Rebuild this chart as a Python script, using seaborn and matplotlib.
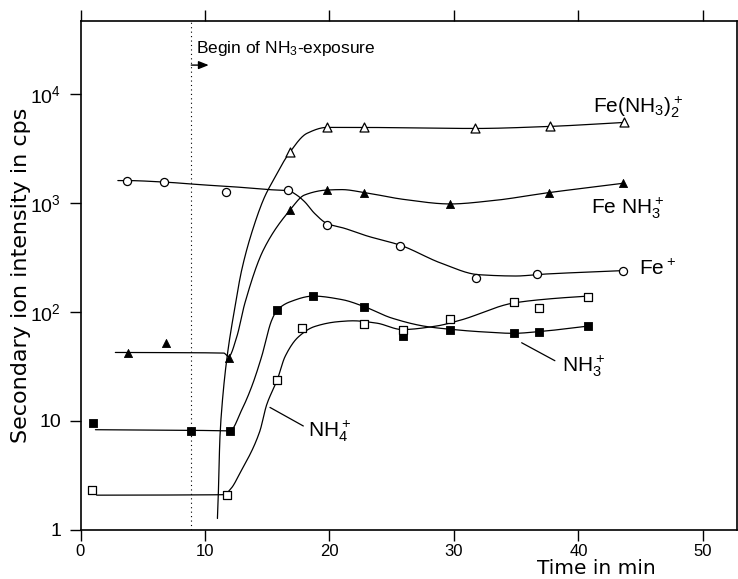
import numpy as np
import matplotlib
matplotlib.use("Agg")
import matplotlib.pyplot as plt
from matplotlib.ticker import NullLocator
import seaborn as sns

# ---- measured points (time in min, intensity in cps) ----
fe_t = [3.7, 6.7, 11.7, 16.7, 19.8, 25.7, 31.8, 36.7, 43.6]
fe_v = [1610, 1550, 1270, 1320, 630, 405, 205, 222, 240]

fenh3_t = [3.8, 6.9, 11.9, 16.8, 19.8, 22.8, 29.7, 37.6, 43.6]
fenh3_v = [42, 52, 38, 870, 1320, 1250, 980, 1250, 1520]

fenh3_2_t = [16.8, 19.8, 22.8, 31.7, 37.7, 43.7]
fenh3_2_v = [2920, 4960, 4950, 4850, 5060, 5500]

nh3_t = [1.0, 8.9, 12.0, 15.8, 18.7, 22.8, 25.9, 29.7, 34.8, 36.8, 40.8]
nh3_v = [9.6, 8.1, 8.0, 104, 140, 111, 60, 69, 64, 66, 74]

nh4_t = [0.9, 11.8, 15.8, 17.8, 22.8, 25.9, 29.7, 34.8, 36.8, 40.8]
nh4_v = [2.3, 2.1, 23.7, 72, 78, 68, 86, 124, 108, 138]

# ---- hand-drawn guide curves (knots) ----
fe_curve_t = [3.0, 3.7, 6.7, 10.0, 12.0, 15.1, 16.7, 17.3, 18.0, 18.8,
              19.8, 21.2, 23.0, 25.7, 29.0, 32.0, 35.0, 37.0, 43.6]
fe_curve_v = [1610, 1610, 1560, 1466, 1420, 1330, 1300, 1200, 1031, 805,
              650, 587, 500, 410, 280, 220, 214, 222, 240]

fenh3_curve_t = [2.8, 11.5, 11.9, 12.55, 13.2, 14.69, 16.83, 18.0,
                 19.8, 21.0, 22.8, 26.0, 29.7, 33.0, 37.6, 43.6]
fenh3_curve_v = [42.5, 42, 39, 59, 120, 371, 864, 1187,
                 1318, 1330, 1250, 1080, 982, 1050, 1247, 1521]

fenh3_2_curve_t = [11.0, 11.07, 11.2, 11.34, 11.74, 12.4, 12.95, 14.0,
                   14.8, 15.5, 16.8, 18.2, 19.8, 22.8, 31.7, 37.7, 43.7]
fenh3_2_curve_v = [1.27, 2.1, 7.0, 12.6, 36, 110, 243, 653,
                   1146, 1630, 2915, 4375, 4955, 4950, 4845, 5060, 5505]

nh3_curve_t = [1.2, 8.9, 12.0, 12.95, 13.75, 14.55, 15.36, 15.8, 16.83,
               18.7, 21.0, 22.8, 25.0, 27.8, 29.7, 32.0, 34.8, 36.8, 40.8]
nh3_curve_v = [8.3, 8.2, 8.1, 12.6, 20.6, 38.9, 84, 104, 124,
               140, 130, 112, 88, 73.5, 69.4, 66, 63.7, 66, 74.3]

nh4_curve_t = [1.3, 11.5, 12.1, 12.8, 14.4, 14.95, 15.8, 16.43, 17.5,
               18.8, 20.7, 21.9, 23.8, 25.85, 28.5, 30.5, 34.8, 38.0, 40.8]
nh4_curve_v = [2.08, 2.1, 2.4, 3.3, 8.0, 14.0, 23.7, 38.9, 59,
               73.5, 81.5, 83, 79, 69, 74, 84, 121, 133, 140]

exposure_start = 8.9
y_ticks = [1, 10, 100, 1000, 10000]
y_ticklabels = ["1", "10", r"$10^2$", r"$10^3$", r"$10^4$"]
x_ticks = [0, 10, 20, 30, 40, 50]


def pchip(x, y, xn):
    """Monotone piecewise cubic Hermite interpolation."""
    x = np.asarray(x, float)
    y = np.asarray(y, float)
    h = np.diff(x)
    d = np.diff(y) / h
    m = np.zeros_like(y)
    for k in range(1, len(x) - 1):
        if d[k - 1] * d[k] > 0:
            w1 = 2 * h[k] + h[k - 1]
            w2 = h[k] + 2 * h[k - 1]
            m[k] = (w1 + w2) / (w1 / d[k - 1] + w2 / d[k])
    m[0] = d[0]
    m[-1] = d[-1]
    idx = np.clip(np.searchsorted(x, xn) - 1, 0, len(h) - 1)
    t = (xn - x[idx]) / h[idx]
    h00 = 2 * t**3 - 3 * t**2 + 1
    h10 = t**3 - 2 * t**2 + t
    h01 = -2 * t**3 + 3 * t**2
    h11 = t**3 - t**2
    return (h00 * y[idx] + h10 * h[idx] * m[idx]
            + h01 * y[idx + 1] + h11 * h[idx] * m[idx + 1])


def smooth(t, v, n=800):
    tt = np.linspace(t[0], t[-1], n)
    vv = 10 ** pchip(t, np.log10(v), tt)
    return tt, vv


sns.set_theme(style="ticks")
plt.rcParams["font.family"] = ["Liberation Sans", "DejaVu Sans"]
plt.rcParams["mathtext.default"] = "regular"
plt.rcParams["text.color"] = "black"
plt.rcParams["axes.labelcolor"] = "black"

fig = plt.figure(figsize=(7.38, 5.79), dpi=100)
ax = fig.add_axes([80.5 / 738, 49.2 / 579, 656 / 738, 509.1 / 579])
ax.set_yscale("log")

# guide curves
for t, v in [(fe_curve_t, fe_curve_v), (fenh3_curve_t, fenh3_curve_v),
             (fenh3_2_curve_t, fenh3_2_curve_v), (nh3_curve_t, nh3_curve_v),
             (nh4_curve_t, nh4_curve_v)]:
    tt, vv = smooth(t, v)
    sns.lineplot(x=tt, y=vv, ax=ax, color="black", linewidth=0.9,
                 sort=False, estimator=None, zorder=2)

# markers
sns.scatterplot(x=fe_t, y=fe_v, ax=ax, marker="o", s=34, color="white",
                edgecolor="black", linewidth=0.9, zorder=4)
sns.scatterplot(x=fenh3_t, y=fenh3_v, ax=ax, marker="^", s=34, color="black",
                edgecolor="black", linewidth=0.6, zorder=4)
sns.scatterplot(x=fenh3_2_t, y=fenh3_2_v, ax=ax, marker="^", s=42,
                color="white", edgecolor="black", linewidth=0.9, zorder=4)
sns.scatterplot(x=nh3_t, y=nh3_v, ax=ax, marker="s", s=30, color="black",
                edgecolor="black", linewidth=0.6, zorder=4)
sns.scatterplot(x=nh4_t, y=nh4_v, ax=ax, marker="s", s=30, color="white",
                edgecolor="black", linewidth=0.9, zorder=4)

# start of exposure
ax.axvline(exposure_start, color="black", linewidth=0.8,
           linestyle=(0, (1, 3)), zorder=1)
ax.annotate("", xy=(10.3, 18500), xytext=(exposure_start, 18500),
            arrowprops=dict(arrowstyle="-|>,head_length=0.5,head_width=0.2",
                            color="black", lw=1.0, shrinkA=0, shrinkB=0))
ax.text(9.28, 23750, r"Begin of NH$_3$-exposure", fontsize=12.5,
        ha="left", va="baseline", color="black")

# curve labels
lab_fs = 15
ax.text(41.2, 6720, r"Fe(NH$_3$)$_2^+$", fontsize=lab_fs, ha="left",
        va="baseline", color="black")
ax.text(41.05, 811, r"Fe NH$_3^+$", fontsize=lab_fs, ha="left",
        va="baseline", color="black")
ax.text(44.9, 219, r"Fe$^+$", fontsize=lab_fs, ha="left", va="baseline",
        color="black")
ax.text(38.65, 28.3, r"NH$_3^+$", fontsize=lab_fs, ha="left",
        va="baseline", color="black")
ax.text(18.3, 7.16, r"NH$_4^+$", fontsize=lab_fs, ha="left",
        va="baseline", color="black")
ax.plot([35.44, 38.11], [52.2, 35.7], color="black", linewidth=0.9)
ax.plot([15.22, 17.9], [13.3, 8.98], color="black", linewidth=0.9)

# axes
ax.set_xlim(0, 52.7)
ax.set_ylim(1, 47300)
ax.set_xticks(x_ticks)
ax.set_xticklabels([str(x) for x in x_ticks], fontsize=12)
ax.set_yticks(y_ticks)
ax.set_yticklabels(y_ticklabels, fontsize=14)
ax.yaxis.set_minor_locator(NullLocator())
ax.tick_params(axis="both", direction="out", length=8, width=1.0, pad=6,
               colors="black")
ax.tick_params(axis="x", top=True, labeltop=False, pad=2)
for sp in ax.spines.values():
    sp.set_visible(True)
    sp.set_linewidth(1.2)
    sp.set_color("black")

ax.set_ylabel("Secondary ion intensity in cps", fontsize=16,
              family=["DejaVu Sans"], color="black")
ax.yaxis.set_label_coords(-0.075, 0.5)
ax.set_xlabel("Time in min", fontsize=14.5, family=["DejaVu Sans"],
              color="black", va="baseline")
ax.xaxis.set_label_coords(0.787, -0.087)

fig.savefig("out.png", dpi=100, facecolor="white")
